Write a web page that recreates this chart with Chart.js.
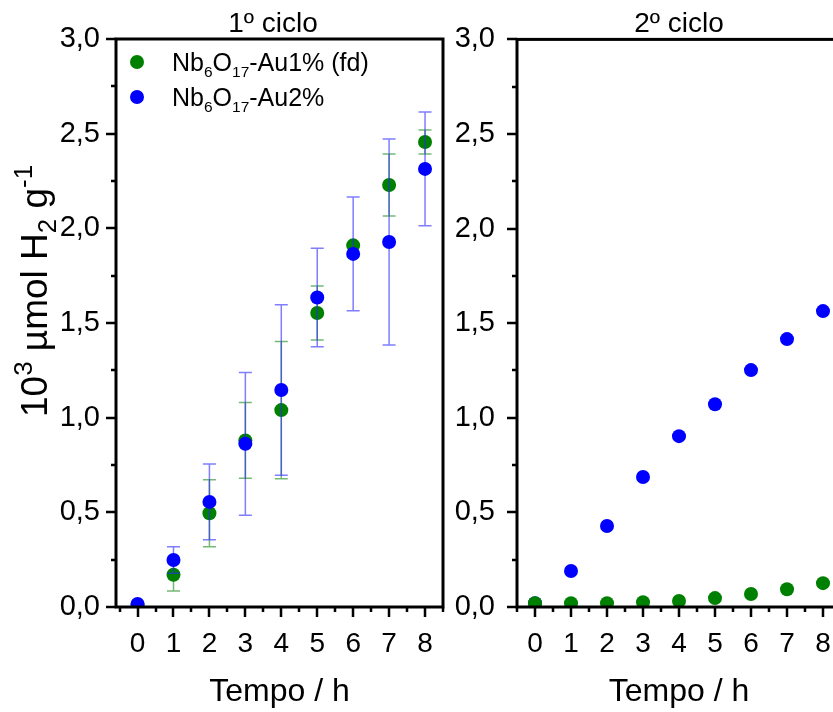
<!DOCTYPE html>
<html>
<head>
<meta charset="utf-8">
<script src="https://cdn.jsdelivr.net/npm/chart.js@4.4.1/dist/chart.umd.min.js"></script>
<style>
html,body{margin:0;padding:0;background:#fff;overflow:hidden;width:833px;height:712px;}
#wrap{position:relative;width:833px;height:712px;overflow:hidden;background:#fff;}
#c1{position:absolute;left:0;top:0;}
#c2{position:absolute;left:440px;top:0;}
</style>
</head>
<body>
<div id="wrap">
<canvas id="c1" width="460" height="712"></canvas>
<canvas id="c2" width="420" height="712"></canvas>
</div>
<script>
// ---------- data ----------
const hours = [0, 1, 2, 3, 4, 5, 6, 7, 8];
const yTicks = [0, 0.5, 1.0, 1.5, 2.0, 2.5, 3.0];

// 1º ciclo
const c1Au1 = [0.01, 0.17, 0.495, 0.88, 1.04, 1.553, 1.91, 2.229, 2.456];
const c1Au1Err = [0, 0.085, 0.177, 0.20, 0.362, 0.143, 0, 0.164, 0.064];
const c1Au2 = [0.016, 0.248, 0.555, 0.862, 1.146, 1.635, 1.865, 1.928, 2.314];
const c1Au2Err = [0, 0.07, 0.20, 0.377, 0.45, 0.26, 0.30, 0.544, 0.301];

// 2º ciclo
const c2Au1 = [0.02, 0.02, 0.02, 0.025, 0.032, 0.047, 0.069, 0.094, 0.126];
const c2Au2 = [0.02, 0.19, 0.428, 0.687, 0.903, 1.072, 1.252, 1.416, 1.564];

const seriesNames = [
  [{t:'Nb'},{t:'6',k:'sub'},{t:'O'},{t:'17',k:'sub'},{t:'-Au1% (fd)'}],
  [{t:'Nb'},{t:'6',k:'sub'},{t:'O'},{t:'17',k:'sub'},{t:'-Au2%'}]
];
const panelTitles = ['1º ciclo', '2º ciclo'];
const xTitle = 'Tempo / h';
const yTitleRuns = [{t:'10'},{t:'3',k:'sup'},{t:' µmol H'},{t:'2',k:'sub'},{t:' g'},{t:'-1',k:'sup'}];

const GREEN = '#008000';
const BLUE = '#0000ff';
const FONT = '"Liberation Sans", Arial, Helvetica, sans-serif';

// ---------- helpers ----------
function runSize(r, size, sc) { return r.k ? size * sc : size; }
function richWidth(ctx, runs, size, sc) {
  let w = 0;
  for (const r of runs) {
    ctx.font = runSize(r, size, sc) + 'px ' + FONT;
    w += ctx.measureText(r.t).width;
  }
  return w;
}
function drawRich(ctx, runs, x, y, size, align, sc) {
  sc = sc || 0.62;
  const w = richWidth(ctx, runs, size, sc);
  let cx = align === 'center' ? x - w / 2 : x;
  ctx.textAlign = 'left';
  ctx.textBaseline = 'alphabetic';
  ctx.fillStyle = '#000';
  for (const r of runs) {
    ctx.font = runSize(r, size, sc) + 'px ' + FONT;
    const dy = r.k === 'sub' ? size * 0.24 : (r.k === 'sup' ? -size * 0.40 : 0);
    ctx.fillText(r.t, cx, y + dy);
    cx += ctx.measureText(r.t).width;
  }
}
const fmt = v => v.toFixed(1).replace('.', ',');

const decor = {
  id: 'decor',
  beforeDatasetDraw(chart, args) {
    const ds = chart.data.datasets[args.index];
    if (!ds.errors) return;
    const xs = chart.scales.x, ys = chart.scales.y, ctx = chart.ctx;
    ctx.save();
    ctx.strokeStyle = ds.errColor;
    ctx.lineWidth = 1.5;
    ds.data.forEach((p, i) => {
      const e = ds.errors[i];
      if (!e) return;
      const px = xs.getPixelForValue(p.x);
      const yh = ys.getPixelForValue(p.y + e);
      const yl = ys.getPixelForValue(p.y - e);
      ctx.beginPath();
      ctx.moveTo(px, yh); ctx.lineTo(px, yl);
      ctx.moveTo(px - 6.5, yh); ctx.lineTo(px + 6.5, yh);
      ctx.moveTo(px - 6.5, yl); ctx.lineTo(px + 6.5, yl);
      ctx.stroke();
    });
    ctx.restore();
  },
  afterDraw(chart, args, o) {
    const ctx = chart.ctx, ca = chart.chartArea;
    const xs = chart.scales.x, ys = chart.scales.y;
    ctx.save();
    // frame
    ctx.strokeStyle = '#000';
    ctx.lineWidth = 3;
    ctx.strokeRect(ca.left, ca.top, ca.right - ca.left, ca.bottom - ca.top);
    // y ticks (outward, major + minor)
    ctx.lineWidth = 2.5;
    ctx.beginPath();
    for (let v = ys.min; v <= ys.max + 1e-9; v += 0.25) {
      const py = Math.round(ys.getPixelForValue(v));
      const len = Math.abs(v / 0.5 - Math.round(v / 0.5)) < 1e-6 ? 10 : 5;
      ctx.moveTo(ca.left - len, py); ctx.lineTo(ca.left, py);
    }
    // x ticks
    for (let v = Math.ceil(xs.min * 2) / 2; v <= xs.max + 1e-9; v += 0.5) {
      const px = Math.round(xs.getPixelForValue(v));
      const len = Math.abs(v - Math.round(v)) < 1e-6 ? 10 : 5;
      ctx.moveTo(px, ca.bottom); ctx.lineTo(px, ca.bottom + len);
    }
    ctx.stroke();
    // panel title
    ctx.fillStyle = '#000';
    ctx.font = '28px ' + FONT;
    ctx.textAlign = 'center';
    ctx.textBaseline = 'alphabetic';
    ctx.fillText(o.title, o.titleX, 32);
    // legend
    if (o.legend) {
      const items = [[GREEN, seriesNames[0], 62], [BLUE, seriesNames[1], 97]];
      for (const [col, runs, cy] of items) {
        ctx.fillStyle = col;
        ctx.beginPath();
        ctx.arc(137, cy, 7, 0, Math.PI * 2);
        ctx.fill();
        drawRich(ctx, runs, 172, cy + 9, 25, 'left', 0.62);
      }
    }
    // y axis title (rotated, with superscripts/subscripts)
    if (o.yTitle) {
      ctx.translate(33, 291);
      ctx.rotate(-Math.PI / 2);
      drawRich(ctx, yTitleRuns, 0, 14, 37, 'center', 0.7);
    }
    ctx.restore();
  }
};

function makePanel(canvasId, cfg) {
  const ds = cfg.series.map(s => ({
    label: s.label,
    data: hours.map((h, i) => ({x: h, y: s.values[i]})),
    errors: s.errors || null,
    errColor: s.errColor,
    backgroundColor: s.color,
    borderWidth: 0,
    pointRadius: 7,
    pointHoverRadius: 7,
    showLine: false,
    order: s.order
  }));
  return new Chart(document.getElementById(canvasId), {
    type: 'scatter',
    data: {datasets: ds},
    plugins: [decor],
    options: {
      responsive: false,
      animation: false,
      devicePixelRatio: 1,
      layout: {padding: {top: 39, right: cfg.padRight, left: 0, bottom: 0}},
      plugins: {
        legend: {display: false},
        tooltip: {enabled: false},
        title: {display: false},
        decor: {title: cfg.title, titleX: cfg.titleX, legend: cfg.legend, yTitle: cfg.yTitle}
      },
      scales: {
        x: {
          type: 'linear',
          min: cfg.xMin, max: 8.5,
          afterBuildTicks: s => { s.ticks = hours.map(v => ({value: v})); },
          afterFit: s => { s.height = 105; },
          grid: {display: false, drawTicks: false},
          border: {display: false},
          ticks: {color: '#000', font: {family: FONT, size: 28}, padding: 20, maxRotation: 0, autoSkip: false,
                  callback: v => String(v)},
          title: {display: true, text: xTitle, color: '#000', font: {family: FONT, size: 32},
                  padding: {top: 0, bottom: 1}}
        },
        y: {
          type: 'linear',
          min: 0, max: 3,
          afterBuildTicks: s => { s.ticks = yTicks.map(v => ({value: v})); },
          afterFit: s => { s.width = cfg.yWidth; },
          grid: {display: false, drawTicks: false},
          border: {display: false},
          ticks: {color: '#000', font: {family: FONT, size: 29}, padding: cfg.yPad, autoSkip: false,
                  callback: v => fmt(v)}
        }
      }
    }
  });
}

makePanel('c1', {
  title: panelTitles[0], titleX: 273, legend: true, yTitle: true,
  xMin: -0.6, yWidth: 116, yPad: 16, padRight: 17,
  series: [
    {label: 'Nb6O17-Au1% (fd)', values: c1Au1, errors: c1Au1Err, color: GREEN, errColor: 'rgba(0,128,0,0.55)', order: 1},
    {label: 'Nb6O17-Au2%', values: c1Au2, errors: c1Au2Err, color: BLUE, errColor: 'rgba(40,40,255,0.6)', order: 0}
  ]
});
makePanel('c2', {
  title: panelTitles[1], titleX: 239, legend: false, yTitle: false,
  xMin: -0.5, yWidth: 77, yPad: 22, padRight: 19,
  series: [
    {label: 'Nb6O17-Au1% (fd)', values: c2Au1, color: GREEN, order: 0},
    {label: 'Nb6O17-Au2%', values: c2Au2, color: BLUE, order: 1}
  ]
});
</script>
</body>
</html>
